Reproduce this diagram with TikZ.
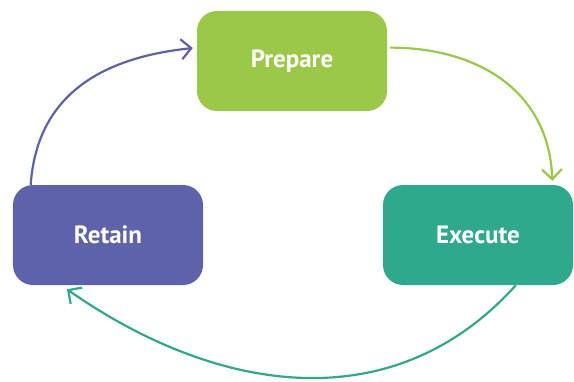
\documentclass[tikz,border=0pt]{standalone}
\usepackage{xcolor}
\usepackage{fontspec}
\setmainfont{PT Sans}
\usepackage{tikz}
\usetikzlibrary{arrows.meta}
\definecolor{CycleGreen}{HTML}{9BC947}
\definecolor{CycleTeal}{HTML}{2EA98B}
\definecolor{CyclePurple}{HTML}{5D62AB}
\tikzset{
  phase/.style={draw=none, rounded corners=20bp, text=white,
    font=\fontsize{25bp}{30bp}\selectfont\bfseries,
    minimum width=190bp, minimum height=100bp, inner sep=0pt},
  wire/.style={-{Straight Barb[length=10bp, width=20bp]}, line width=2.2bp}
}
\begin{document}
\begin{tikzpicture}[x=1bp, y=1bp]
  \useasboundingbox (0,0) rectangle (574,381);
  \node[phase, fill=CycleGreen] (prepare) at (292,320) {Prepare};
  \node[phase, fill=CyclePurple] (retain) at (108,146) {Retain};
  \node[phase, fill=CycleTeal] (execute) at (478,146) {Execute};
  \draw[wire, draw=CycleGreen, shorten <=3bp, shorten >=4bp]
    (prepare.8) to[out=0, in=92, looseness=1.1] (execute.34);
  \draw[wire, draw=CycleTeal, shorten >=7bp]
    (execute.-53) to[out=-132, in=-35, looseness=1.05] (retain.-133);
  \draw[wire, draw=CyclePurple, shorten >=4bp]
    (retain.147) to[out=86, in=186, looseness=1.1] (prepare.172);
\end{tikzpicture}
\end{document}
